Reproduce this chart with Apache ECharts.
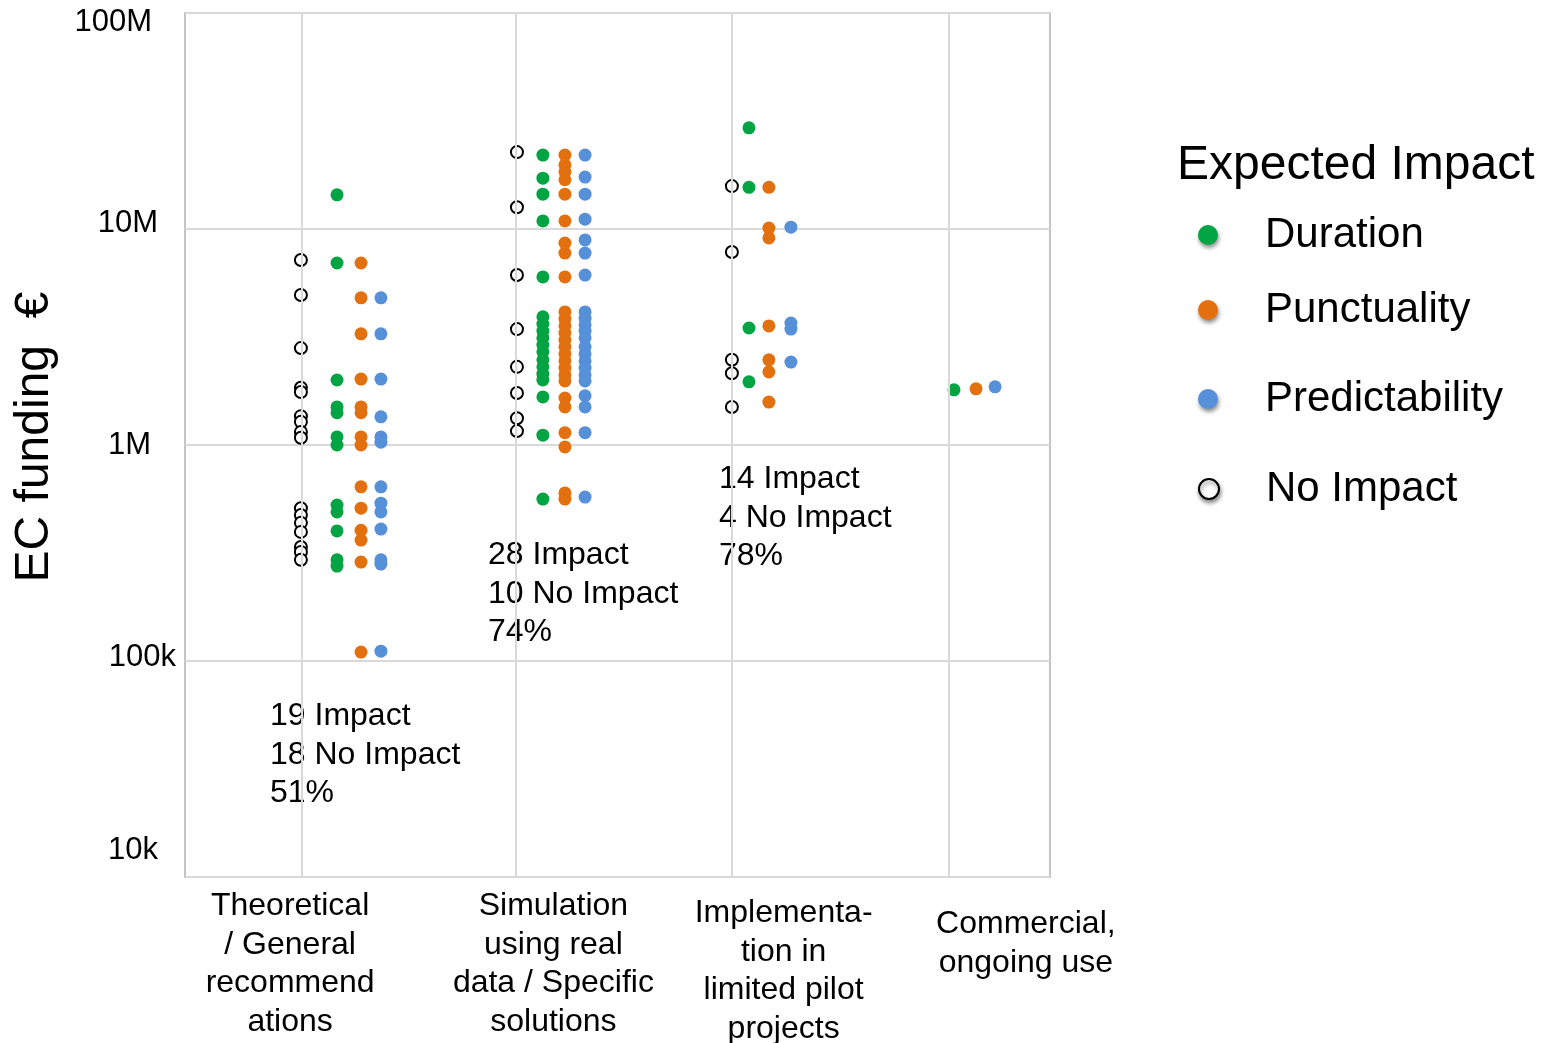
<!DOCTYPE html>
<html>
<head>
<meta charset="utf-8">
<script src="https://cdn.jsdelivr.net/npm/echarts@6/dist/echarts.min.js"></script>
<style>
  html, body { margin: 0; padding: 0; background: #fff; }
  #chart { width: 1550px; height: 1043px; }
</style>
</head>
<body>
<div id="chart"></div>
<script>
  // category labels on the x axis (one per development stage)
  const categories = [
    'Theoretical\n/ General\nrecommend\nations',
    'Simulation\nusing real\ndata / Specific\nsolutions',
    'Implementa-\ntion in\nlimited pilot\nprojects',
    'Commercial,\nongoing use'
  ];
  const seriesNames = ['Duration', 'Punctuality', 'Predictability', 'No Impact'];
  const yTickLabels = ['10k', '100k', '1M', '10M', '100M'];
  const annotations = [
    '19 Impact\n18 No Impact\n51%',
    '28 Impact\n10 No Impact\n74%',
    '14 Impact\n4 No Impact\n78%'
  ];

  // x position of each column of dots (stage index + offset), one entry per stage
  const durationX = [0.703, 1.655, 2.608, 3.556];
  const punctualityX = [0.814, 1.757, 2.700, 3.658];
  const predictabilityX = [0.906, 1.850, 2.802, 3.746];
  const noImpactX = [0.536, 1.535, 2.529];
  const stageLineX = [0.536, 1.535, 2.529, 3.529];

  // EC funding (EUR) per project, per stage
  const duration = [
    [14.4e6, 6.96e6, 2.0e6, 1.5e6, 1.41e6, 1.09e6, 1.0e6, 527e3, 490e3, 400e3, 294e3, 275e3],
    [22.0e6, 17.2e6, 14.5e6, 10.9e6, 6.0e6, 3.92e6, 3.63e6, 3.37e6, 3.13e6, 2.90e6, 2.70e6, 2.48e6, 2.30e6, 2.13e6, 2.0e6, 1.67e6, 1.11e6, 562e3],
    [29.4e6, 15.6e6, 3.48e6, 1.96e6],
    [1.80e6]
  ];
  const punctuality = [
    [6.96e6, 4.8e6, 3.27e6, 2.02e6, 1.5e6, 1.41e6, 1.09e6, 1.0e6, 640e3, 510e3, 403e3, 363e3, 287e3, 110e3],
    [22.0e6, 19.8e6, 18.4e6, 16.9e6, 14.5e6, 10.9e6, 8.61e6, 7.74e6, 6.0e6, 4.13e6, 3.83e6, 3.56e6, 3.30e6, 3.06e6, 2.85e6, 2.64e6, 2.45e6, 2.27e6, 2.11e6, 1.98e6, 1.65e6, 1.50e6, 1.14e6, 980e3, 600e3, 562e3],
    [15.6e6, 10.1e6, 9.09e6, 3.56e6, 2.48e6, 2.18e6, 1.58e6],
    [1.82e6]
  ];
  const predictability = [
    [4.8e6, 3.27e6, 2.02e6, 1.35e6, 1.09e6, 1.03e6, 640e3, 538e3, 490e3, 408e3, 294e3, 281e3, 111e3],
    [22.0e6, 17.4e6, 14.5e6, 11.1e6, 8.9e6, 7.74e6, 6.12e6, 4.13e6, 3.86e6, 3.60e6, 3.37e6, 3.13e6, 2.85e6, 2.64e6, 2.45e6, 2.27e6, 2.11e6, 1.98e6, 1.69e6, 1.50e6, 1.14e6, 574e3],
    [10.2e6, 3.67e6, 3.44e6, 2.42e6],
    [1.86e6]
  ];
  const noImpact = [
    [7.19e6, 4.95e6, 2.81e6, 1.84e6, 1.76e6, 1.36e6, 1.28e6, 1.15e6, 1.08e6, 510e3, 474e3, 436e3, 396e3, 337e3, 320e3, 294e3],
    [22.7e6, 12.6e6, 6.12e6, 3.44e6, 2.30e6, 1.74e6, 1.33e6, 1.16e6],
    [15.8e6, 7.83e6, 2.48e6, 2.15e6, 1.50e6]
  ];

  const colors = ['#00a443', '#e3700f', '#5590d8'];

  function toPoints (cols, xs) {
    let pts = [];
    cols.forEach((vals, i) => {
      vals.forEach(v => pts.push([xs[i], v]));
    });
    return pts;
  }

  const chart = echarts.init(document.getElementById('chart'));

  const fontFamily = '"Liberation Sans", Arial, sans-serif';
  const legendShadow = {
    shadowBlur: 4,
    shadowColor: 'rgba(0,0,0,0.45)',
    shadowOffsetX: 1,
    shadowOffsetY: 3
  };
  const legendTops = [214, 289, 378, 468];
  // per-category label nudges, the text boxes in the original are not centred on the bands
  const catPadding = [[0, 6, 0, 0], [0, 0, 0, 88], [7, 0, 0, 116], [18, 0, 0, 168]];
  // per-tick label nudges for the y axis
  const tickRich = {
    t0: { fontSize: 31, color: '#000', padding: [0, 18, 54, 0] },
    t1: { fontSize: 31, color: '#000', padding: [0, 0, 8, 0] },
    t2: { fontSize: 31, color: '#000', padding: [0, 25, 0, 0] },
    t3: { fontSize: 31, color: '#000', padding: [0, 18, 12, 0] },
    t4: { fontSize: 31, color: '#000', padding: [18, 24, 0, 0] }
  };

  chart.setOption({
    animation: false,
    textStyle: { fontFamily: fontFamily },
    title: {
      text: 'Expected Impact',
      left: 1177,
      top: 142,
      padding: 0,
      textStyle: { fontSize: 48, fontWeight: 'normal', color: '#000', fontFamily: fontFamily }
    },
    legend: seriesNames.map((name, i) => ({
      data: [name],
      left: 1198,
      top: legendTops[i],
      padding: 0,
      icon: 'circle',
      itemWidth: 104,
      itemHeight: 20,
      itemStyle: legendShadow,
      textStyle: { fontSize: 42, color: '#000', fontFamily: fontFamily }
    })),
    grid: {
      left: 185,
      top: 13,
      width: 865,
      height: 864,
      outerBoundsMode: 'none',
      show: true,
      borderColor: '#c4c4c4',
      borderWidth: 2
    },
    xAxis: [{
      type: 'value',
      position: 'top',
      min: 0,
      max: 4,
      axisLine: { show: false },
      axisTick: { show: false },
      axisLabel: { show: false },
      splitLine: { show: false }
    }, {
      type: 'category',
      position: 'bottom',
      data: categories.map((c, i) => ({ value: c, textStyle: { padding: catPadding[i] } })),
      axisLine: { show: false },
      axisTick: { show: false },
      splitLine: { show: false },
      axisLabel: {
        interval: 0,
        margin: 10,
        fontSize: 32,
        lineHeight: 38.5,
        color: '#000',
        align: 'center',
        verticalAlign: 'top'
      }
    }],
    yAxis: {
      type: 'log',
      logBase: 10,
      min: 1e4,
      max: 1e8,
      name: 'EC funding  €',
      nameLocation: 'middle',
      nameRotate: 90,
      nameGap: 126,
      nameTextStyle: { fontSize: 48, color: '#000', fontFamily: fontFamily, padding: [0, 0, 0, 16] },
      axisLine: { show: false },
      axisTick: { show: false },
      splitLine: { lineStyle: { color: '#d9d9d9', width: 2 } },
      axisLabel: {
        margin: 9,
        align: 'right',
        formatter: function (v) {
          let i = Math.round(Math.log10(v)) - 4;
          return '{t' + i + '|' + yTickLabels[i] + '}';
        },
        rich: tickRich
      }
    },
    graphic: annotations.map((txt, i) => ({
      type: 'text',
      left: [270, 488, 719][i],
      top: [697, 536, 460][i],
      style: {
        text: txt,
        font: '32px ' + fontFamily,
        lineHeight: 38.5,
        fill: '#000'
      }
    })),
    series: [{
      name: 'stage lines',
      type: 'scatter',
      data: [],
      z: 1,
      markLine: {
        silent: true,
        symbol: 'none',
        label: { show: false },
        lineStyle: { color: '#d9d9d9', width: 2, type: 'solid' },
        data: stageLineX.map(x => ({ xAxis: x }))
      }
    }, {
      name: 'Duration',
      type: 'scatter',
      symbolSize: 13,
      z: 3,
      itemStyle: { color: colors[0], opacity: 1 },
      data: toPoints(duration, durationX)
    }, {
      name: 'Punctuality',
      type: 'scatter',
      symbolSize: 13,
      z: 3,
      itemStyle: { color: colors[1], opacity: 1 },
      data: toPoints(punctuality, punctualityX)
    }, {
      name: 'Predictability',
      type: 'scatter',
      symbolSize: 13,
      z: 3,
      itemStyle: { color: colors[2], opacity: 1 },
      data: toPoints(predictability, predictabilityX)
    }, {
      name: 'No Impact',
      type: 'scatter',
      symbolSize: 12,
      z: 3,
      itemStyle: { color: '#fff', borderColor: '#000', borderWidth: 2, opacity: 1 },
      data: toPoints(noImpact, noImpactX)
    }]
  });
</script>
</body>
</html>
